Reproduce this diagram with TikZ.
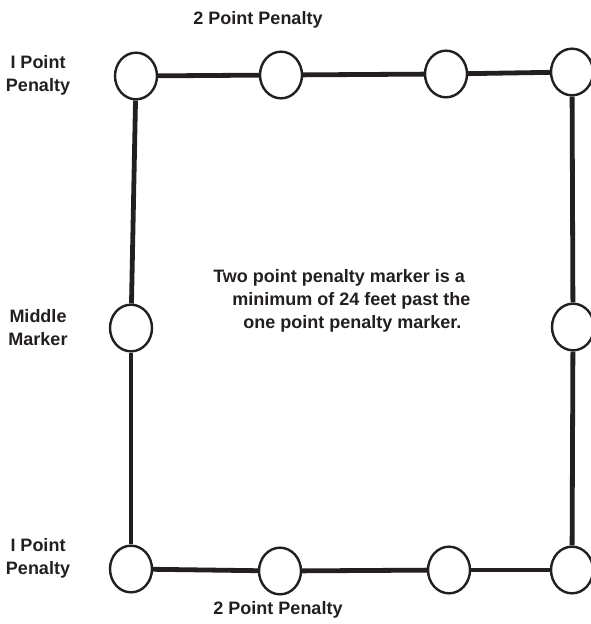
\documentclass[tikz,border=0pt]{standalone}
\usepackage{fontspec}
\setmainfont{Liberation Sans}
\usetikzlibrary{positioning}
\usetikzlibrary{shapes.geometric}
\definecolor{ink}{RGB}{35,31,32}

\begin{document}
\begin{tikzpicture}[x=0.75pt, y=-0.75pt,
    marker/.style={draw=ink, line width=1.8pt, ellipse, inner sep=0pt,
        minimum width=31.5pt, minimum height=35pt},
    boundary/.style={draw=ink, line width=3.6pt},
    label/.style={text=ink, font=\fontsize{13.5}{17.25}\selectfont\bfseries, align=center}]
    \useasboundingbox (0,0) rectangle (591,624);

    \foreach \n/\x/\y in {tl/136/76, tt/281/75, tu/446/74, tr/572/72,
                          ml/131/328, mr/573/327,
                          bl/131/569, bb/280/571, bu/449/570, br/572/570} {
        \node[marker] (\n) at (\x, \y) {};
    }

    \draw[boundary] (tl) -- (tt);
    \draw[boundary] (tt) -- (tu);
    \draw[boundary] (tu) -- (tr);
    \draw[boundary] (tl) -- (ml);
    \draw[boundary] (ml) -- (bl);
    \draw[boundary] (bl) -- (bb);
    \draw[boundary] (bb) -- (bu);
    \draw[boundary] (bu) -- (br);
    \draw[boundary] (tr) -- (mr);
    \draw[boundary] (mr) -- (br);

    \node[label] (toplbl) at (258, 20) {2 Point Penalty};
    \node[label] (botlbl) at (278, 610) {2 Point Penalty};
    \node[label] (onetop) at (38, 75) {I Point\\Penalty};
    \node[label] (midlbl) at (38, 328) {Middle\\Marker};
    \node[label] (onebot) at (38, 558) {I Point\\Penalty};

    \node[label, align=left, anchor=west, inner sep=0pt] (note) at (213, 301)
        {Two point penalty marker is a\\
         \hspace*{14.25pt}minimum of 24 feet past the\\
         \hspace*{22.5pt}one point penalty marker.};
\end{tikzpicture}
\end{document}
